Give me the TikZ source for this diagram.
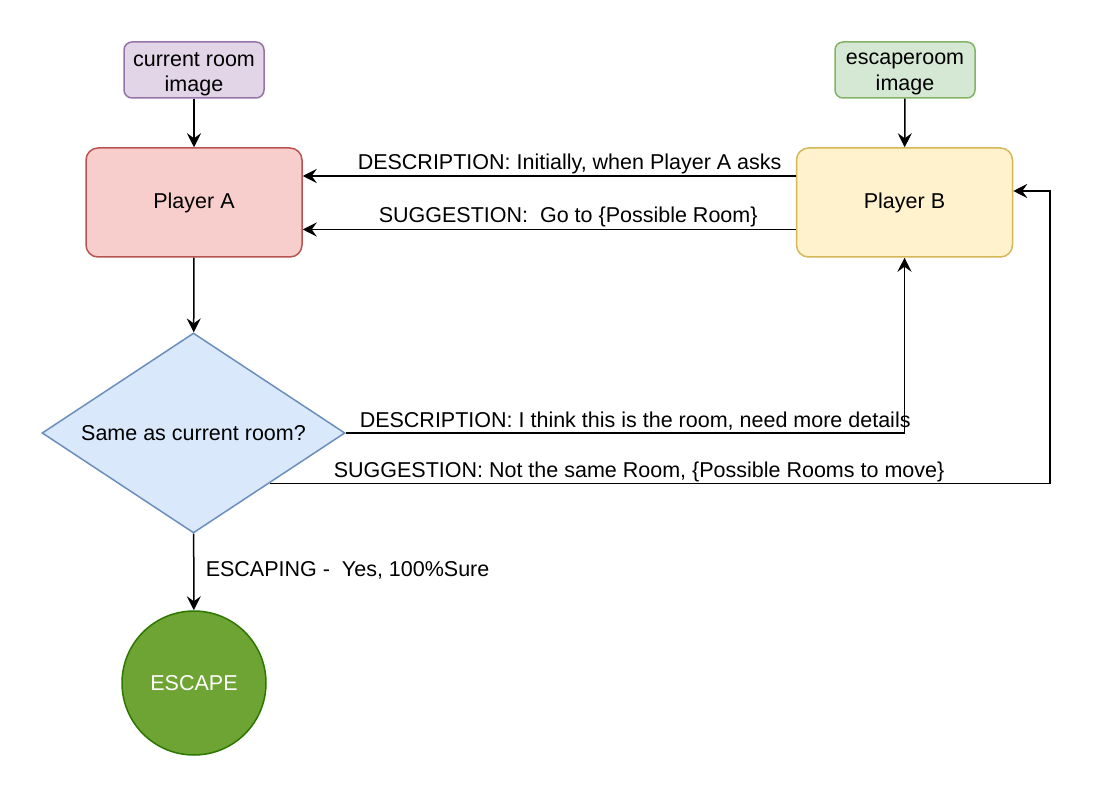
\documentclass[tikz,border=0pt]{standalone}
\usepackage{fontspec}
\setmainfont{Liberation Sans}
\usetikzlibrary{arrows.meta,calc,shapes.geometric}
\definecolor{purpleF}{HTML}{E1D5E7}
\definecolor{purpleS}{HTML}{9673A6}
\definecolor{redF}{HTML}{F8CECC}
\definecolor{redS}{HTML}{B85450}
\definecolor{greenF}{HTML}{D5E8D4}
\definecolor{greenS}{HTML}{82B366}
\definecolor{yelF}{HTML}{FFF2CC}
\definecolor{yelS}{HTML}{D6B656}
\definecolor{blueF}{HTML}{DAE8FC}
\definecolor{blueS}{HTML}{6C8EBF}
\definecolor{escF}{HTML}{6DA433}
\definecolor{escS}{HTML}{2D7600}
\begin{document}
\begin{tikzpicture}[x=0.5pt,y=-0.5pt,
  font=\fontsize{10.75}{12.6}\selectfont,
  line width=0.75pt,
  arr/.style={-{Stealth[length=7pt,width=7pt,inset=2.5pt]}},
  smallbox/.style={rounded corners=4pt, minimum width=70pt, minimum height=28pt, inner sep=0pt},
  boxtext/.style={align=center, inner sep=0pt, yshift=-2pt},
  player/.style={rounded corners=6pt, minimum width=108pt, minimum height=54.5pt, inner sep=0pt},
  lbl/.style={anchor=base west, inner sep=0pt}]
\useasboundingbox (0,0) rectangle (1114,786);

\node[smallbox, draw=purpleS, fill=purpleF,
  label={[boxtext, name=curtxt]center:current room\\image}] (cur) at (194,70) {};
\node[player, draw=redS, fill=redF] (pa) at (194,202.5) {Player A};
\node[smallbox, draw=greenS, fill=greenF,
  label={[boxtext, name=esctxt]center:escaperoom\\image}] (esc) at (905,70) {};
\node[player, draw=yelS, fill=yelF] (pb) at (904.5,202.5) {Player B};
\node[diamond, aspect=1.5, draw=blueS, fill=blueF, inner sep=0pt, minimum width=151.5pt, minimum height=100pt] (dec) at (193.5,433) {Same as current room?};
\node[circle, draw=escS, fill=escF, text=white, minimum size=72pt, inner sep=0pt] (fin) at (194,683) {ESCAPE};

\draw[arr] (cur) -- (pa);
\draw[arr] (esc) -- (pb);
\draw[arr] ($(pb.west)+(0,-26.5)$) -- ($(pa.east)+(0,-26.5)$);
\draw[arr] ($(pb.west)+(0,27)$) -- ($(pa.east)+(0,27)$);
\draw[arr] (pa) -- (dec);
\draw[arr] (dec.east) -| (pb.south);
\coordinate (m) at ($(dec.east)!0.5!(dec.south)$);
\coordinate (k) at ($(pb.east)+(36.5,-11.5)$);
\draw[arr] (m) -| (k) -- ($(pb.east)+(0,-11.5)$);
\draw[arr] (dec) -- (fin);

\node[lbl] (l1) at (357,170) {DESCRIPTION: Initially, when Player A asks};
\node[lbl] (l2) at (378,223) {SUGGESTION:\ \ Go to \{Possible Room\}};
\node[lbl] (l3) at (359,427) {DESCRIPTION: I think this is the room, need more details};
\node[lbl] (l4) at (333,477) {SUGGESTION: Not the same Room, \{Possible Rooms to move\}};
\node[lbl] (l5) at (205,576) {ESCAPING -\ \ Yes, 100\%Sure};
\end{tikzpicture}
\end{document}
